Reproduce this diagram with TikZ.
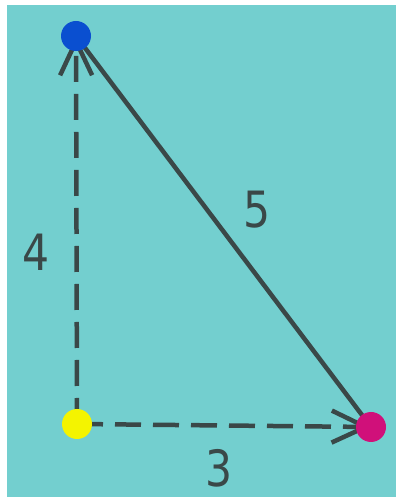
\documentclass[tikz,border=0pt]{standalone}
\usepackage{fontspec}
\setmainfont{DejaVu Sans}
\usetikzlibrary{arrows.meta}
\definecolor{bg}{HTML}{73CFCF}
\definecolor{ink}{HTML}{3A4848}
\definecolor{dotblue}{HTML}{0A4FD0}
\definecolor{dotyellow}{HTML}{F4F400}
\definecolor{dotmag}{HTML}{D0107A}
\tikzset{
  pt/.style={circle,minimum size=30pt,inner sep=0pt},
  edge/.style={ink,line width=4.5pt,line cap=round},
  dashedge/.style={edge,dash pattern=on 26pt off 12pt,line cap=butt,
    -{Straight Barb[length=34pt,width=32pt,line width=4.5pt]}},
  lab/.style={ink,font=\fontsize{50}{50}\selectfont,xscale=0.85,inner sep=0pt}
}
\begin{document}
\begin{tikzpicture}[x=1pt,y=1pt]
\useasboundingbox (0,0) rectangle (396,497);
\fill[white] (0,0) rectangle (396,497);
\fill[bg] (7,0) rectangle (396,492);
\coordinate (B) at (76,461);
\coordinate (Y) at (77,73);
\coordinate (M) at (371,70);
\draw[edge] (B) -- (M);
\draw[dashedge] (Y) -- (B);
\draw[dashedge] (Y) -- (M);
\node[pt,fill=dotblue] (nb) at (B) {};
\node[pt,fill=dotyellow] (ny) at (Y) {};
\node[pt,fill=dotmag] (nm) at (M) {};
\node[lab] (l4) at (36,245) {4};
\node[lab] (l5) at (257,287) {5};
\node[lab] (l3) at (219,29) {3};
\end{tikzpicture}
\end{document}
